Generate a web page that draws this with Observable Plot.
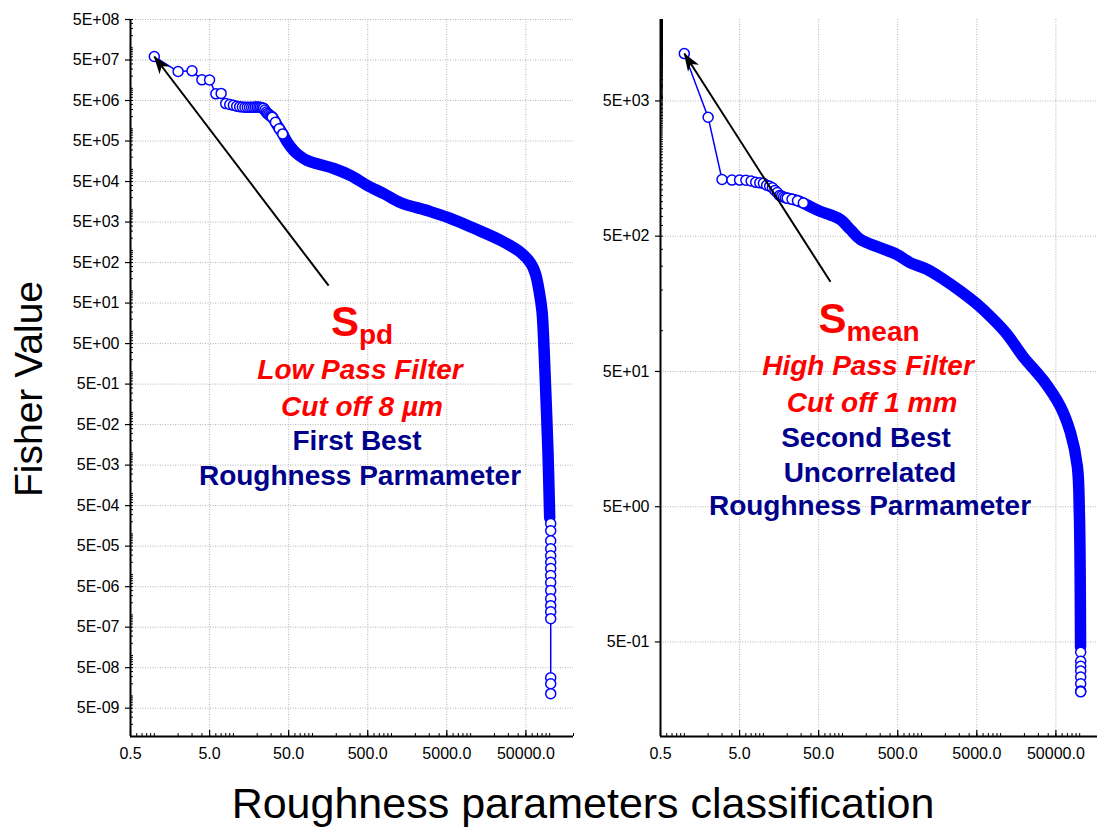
<!DOCTYPE html>
<html><head><meta charset="utf-8">
<script src="https://cdn.jsdelivr.net/npm/d3@7"></script>
<script src="https://cdn.jsdelivr.net/npm/@observablehq/plot@0.6"></script>
<style>
html,body{margin:0;padding:0;background:#fff;overflow:hidden;}
#wrap{position:relative;width:1097px;height:827px;overflow:hidden;background:#fff;font-family:"Liberation Sans",Arial,Helvetica,sans-serif;}
#wrap svg{position:absolute;top:0;}
</style></head><body><div id="wrap"></div>
<script>
// ---------- data ----------
const xMajor = [0.5, 5, 50, 500, 5000, 50000];
const xLabels = ["0.5", "5.0", "50.0", "500.0", "5000.0", "50000.0"];

const leftYMajor = [5e8, 5e7, 5e6, 5e5, 5e4, 5e3, 5e2, 5e1, 5e0, 5e-1, 5e-2, 5e-3, 5e-4, 5e-5, 5e-6, 5e-7, 5e-8, 5e-9];
const leftYLabels = ["5E+08", "5E+07", "5E+06", "5E+05", "5E+04", "5E+03", "5E+02", "5E+01", "5E+00", "5E-01", "5E-02", "5E-03", "5E-04", "5E-05", "5E-06", "5E-07", "5E-08", "5E-09"];
const rightYMajor = [5e3, 5e2, 5e1, 5e0, 5e-1];
const rightYLabels = ["5E+03", "5E+02", "5E+01", "5E+00", "5E-01"];

// Left panel (S_pd): first individually visible parameters
const leftHeadRank = [1, 2, 3, 4, 5, 6, 7, 8, 9, 10, 11, 12, 13, 14, 15, 16, 17, 18, 19, 20, 21, 22, 23, 24, 25, 26, 27, 28, 29, 30, 31, 34, 38, 42];
const leftHeadValue = [6.1e7, 2.6e7, 2.7e7, 1.62e7, 1.6e7, 7.3e6, 7.5e6, 4.2e6, 4.0e6, 3.8e6, 3.6e6, 3.5e6, 3.45e6, 3.4e6, 3.4e6, 3.4e6, 3.4e6, 3.4e6, 3.45e6, 3.45e6, 3.4e6, 3.4e6, 3.3e6, 3.2e6, 2.9e6, 2.6e6, 2.4e6, 2.25e6, 2.1e6, 2.0e6, 1.94e6, 1.45e6, 1.0e6, 7.5e5];
// dense body of the curve
const leftBodyRank = [24, 27, 31, 36, 42, 48, 58, 68, 86, 115, 186, 305, 495, 803, 1308, 2870, 5150, 11000, 24150, 43200, 57900, 66000, 74000, 80000, 85000, 90000, 95000, 100000];
const leftBodyValue = [3.2e6, 2.4e6, 1.94e6, 1.21e6, 7.5e5, 4.7e5, 2.9e5, 2.2e5, 1.65e5, 1.37e5, 1.05e5, 7.0e4, 4.0e4, 2.5e4, 1.5e4, 9.5e3, 6.5e3, 3.5e3, 1.75e3, 880, 470, 267, 91, 31, 3.4, 0.2, 0.0114, 2.5e-4];
// last individually visible parameters
const leftTailRank = [102990, 102991, 102992, 102993, 102994, 102995, 102996, 102997, 102998, 102999, 103000, 103001, 103002, 103003, 103004, 103005, 103006];
const leftTailValue = [1.8e-4, 1.2e-4, 6.8e-5, 4.3e-5, 2.9e-5, 2.0e-5, 1.4e-5, 9.4e-6, 6.3e-6, 4.0e-6, 2.5e-6, 1.7e-6, 1.2e-6, 8.1e-7, 2.8e-8, 2.0e-8, 1.14e-8];

// Right panel (S_mean)
const rightHeadRank = [1, 2, 3, 4, 5, 6, 7, 8, 9, 10, 11, 12, 13, 14, 15, 16, 17, 18, 19, 20, 23, 27, 32];
const rightHeadValue = [11200, 3790, 1312, 1300, 1300, 1295, 1280, 1250, 1240, 1230, 1190, 1170, 1140, 1090, 1050, 1000, 990, 975, 962, 955, 938, 915, 880];
const rightBodyRank = [20, 24, 29, 39, 53, 70, 94, 126, 169, 302, 491, 724, 1177, 1907, 3100, 5040, 8110, 12080, 19400, 34700, 57000, 76300, 93500, 99000, 101500, 102500];
const rightBodyValue = [955, 933, 902, 829, 761, 719, 664, 560, 472, 410, 366, 318, 284, 239, 196, 157, 121, 94, 64, 43, 27.5, 17.7, 9.9, 4.5, 1.45, 0.46];
const rightTailRank = [102990, 102991, 102992, 102993, 102994, 102995, 102996, 102997];
const rightTailValue = [0.42, 0.36, 0.33, 0.305, 0.275, 0.245, 0.217, 0.214];

// annotation arrows: [tailRank, tailValue, tipRank, tipValue]
const leftArrow = [160, 135, 1, 6.1e7];
const rightArrow = [70.5, 230, 1, 11200];

const annotLeft = ["Low Pass Filter", "Cut off 8 µm", "First Best", "Roughness Parmameter"];
const annotRight = ["High Pass Filter", "Cut off 1 mm", "Second Best", "Uncorrelated", "Roughness Parmameter"];

// ---------- drawing ----------
const BLUE = "#0000ff";
const FONT = "'Liberation Sans', Arial, Helvetica, sans-serif";
const wrap = document.getElementById("wrap");
const xLabelMap = new Map(xMajor.map((d, i) => [d, xLabels[i]]));

function panel(cfg) {
  const W = cfg.width, H = 770, mT = 19, mB = 34;
  const innerW = W - cfg.marginLeft - cfg.marginRight, innerH = H - mT - mB;
  const head = cfg.headRank.map((r, i) => ({r, v: cfg.headValue[i]}));
  const body = cfg.bodyRank.map((r, i) => ({r, v: cfg.bodyValue[i]}));
  const tail = cfg.tailRank.map((r, i) => ({r, v: cfg.tailValue[i]}));
  const lastHead = head[head.length - 1].r;
  const all = [...head, ...body.filter(d => d.r > lastHead), ...tail];
  const xMinor = d3.scaleLog().domain([0.5, 2e5]).ticks(100);
  const yMinor = d3.scaleLog().domain(cfg.yDomain).ticks(200);
  const yLabelMap = new Map(cfg.yMajor.map((d, i) => [d, cfg.yLabels[i]]));
  const a = cfg.arrow;
  const grid = {stroke: "#b4b4b4", strokeWidth: 1, strokeDasharray: "1,1.5"};
  const chart = Plot.plot({
    width: W, height: H,
    marginLeft: cfg.marginLeft, marginRight: cfg.marginRight, marginTop: mT, marginBottom: mB,
    x: {type: "log", domain: [0.5, 2e5], axis: null},
    y: {type: "log", domain: cfg.yDomain, axis: null},
    style: {fontFamily: FONT, fontSize: "16px", background: "transparent", overflow: "visible", color: "black"},
    marks: [
      Plot.ruleX(xMajor.slice(1), grid),
      Plot.ruleY(cfg.yMajor, grid),
      Plot.ruleX(xMinor, {insetTop: innerH - 3, stroke: "black"}),
      Plot.ruleX(xMajor, {insetTop: innerH - 6, stroke: "black", strokeWidth: 1.2}),
      Plot.ruleY(yMinor, {insetRight: innerW - 3, stroke: "black"}),
      Plot.ruleY(cfg.yMajor, {insetLeft: -5, insetRight: innerW, stroke: "black", strokeWidth: 1.2}),
      Plot.ruleX([0.5], {stroke: "black", strokeWidth: 2}),
      Plot.ruleY([cfg.yDomain[0]], {stroke: "black", strokeWidth: 2}),
      Plot.text(cfg.yMajor, {y: d => d, text: d => yLabelMap.get(d), frameAnchor: "left", textAnchor: "end", dx: -11, fontSize: 16, fill: "black"}),
      Plot.text(xMajor, {x: d => d, text: d => xLabelMap.get(d), frameAnchor: "bottom", dy: 22, fontSize: 16, fill: "black"}),
      Plot.line(all, {x: "r", y: "v", stroke: BLUE, strokeWidth: 1.5}),
      Plot.line(body, {x: "r", y: "v", stroke: BLUE, strokeWidth: 11.5, curve: "catmull-rom", strokeLinecap: "round", strokeLinejoin: "round"}),
      Plot.dot([...head, ...tail], {x: "r", y: "v", r: 5, stroke: BLUE, strokeWidth: 1.5, fill: "white"}),
      Plot.link([a], {x1: d => d[0], y1: d => d[1], x2: d => d[2], y2: d => d[3], stroke: "black", strokeWidth: 2})
    ]
  });
  chart.style.left = cfg.left + "px";
  // filled arrow head computed through the plot's own scales
  const sx = chart.scale("x"), sy = chart.scale("y");
  const x0 = sx.apply(a[0]), y0 = sy.apply(a[1]), x1 = sx.apply(a[2]), y1 = sy.apply(a[3]);
  const len = Math.hypot(x1 - x0, y1 - y0), ux = (x1 - x0) / len, uy = (y1 - y0) / len;
  const L = 18, Wd = 6.5, N = 5;
  const bx = x1 - ux * L, by = y1 - uy * L;
  const p = [[x1, y1], [bx - uy * Wd, by + ux * Wd], [x1 - ux * (L - N), y1 - uy * (L - N)], [bx + uy * Wd, by - ux * Wd]];
  d3.select(chart).append("path").attr("d", "M" + p.map(q => q.join(",")).join("L") + "Z").attr("fill", "black");
  wrap.appendChild(chart);
}

panel({left: 0, width: 600, marginLeft: 130, marginRight: 27, yDomain: [1e-9, 5e8], yMajor: leftYMajor, yLabels: leftYLabels,
  headRank: leftHeadRank, headValue: leftHeadValue, bodyRank: leftBodyRank, bodyValue: leftBodyValue,
  tailRank: leftTailRank, tailValue: leftTailValue, arrow: leftArrow});
panel({left: 530, width: 580, marginLeft: 130, marginRight: 7, yDomain: [0.1, 2e4], yMajor: rightYMajor, yLabels: rightYLabels,
  headRank: rightHeadRank, headValue: rightHeadValue, bodyRank: rightBodyRank, bodyValue: rightBodyValue,
  tailRank: rightTailRank, tailValue: rightTailValue, arrow: rightArrow});

// ---------- text overlay ----------
const ov = d3.select(wrap).append("svg").attr("width", 1097).attr("height", 827)
  .style("left", "0px").style("top", "0px").style("font-family", FONT);
ov.append("text").attr("transform", "translate(42,389) rotate(-90)").attr("text-anchor", "middle")
  .attr("font-size", 39).attr("fill", "black").text("Fisher Value");
ov.append("text").attr("x", 583).attr("y", 818).attr("text-anchor", "middle")
  .attr("font-size", 43).attr("fill", "black").text("Roughness parameters classification");

function sym(x, y, main, sub) {
  const t = ov.append("text").attr("x", x).attr("y", y).attr("text-anchor", "middle")
    .attr("fill", "#ff0000").attr("font-weight", "bold");
  t.append("tspan").attr("font-size", 42).text(main);
  t.append("tspan").attr("font-size", 28).attr("dy", 8).text(sub);
}
function lines(xs, ys, texts, n) {
  texts.forEach((s, i) => {
    const red = i < n;
    ov.append("text").attr("x", xs[i]).attr("y", ys[i]).attr("text-anchor", "middle")
      .attr("font-size", 28).attr("font-weight", "bold").attr("font-style", red ? "italic" : "normal")
      .attr("fill", red ? "#ff0000" : "#00008b").text(s);
  });
}
sym(362, 336, "S", "pd");
lines([360, 362, 357, 360], [379, 416, 450, 485], annotLeft, 2);
sym(869, 333, "S", "mean");
lines([868, 872, 866, 870, 870], [375, 412, 447, 482, 515], annotRight, 2);
</script></body></html>
